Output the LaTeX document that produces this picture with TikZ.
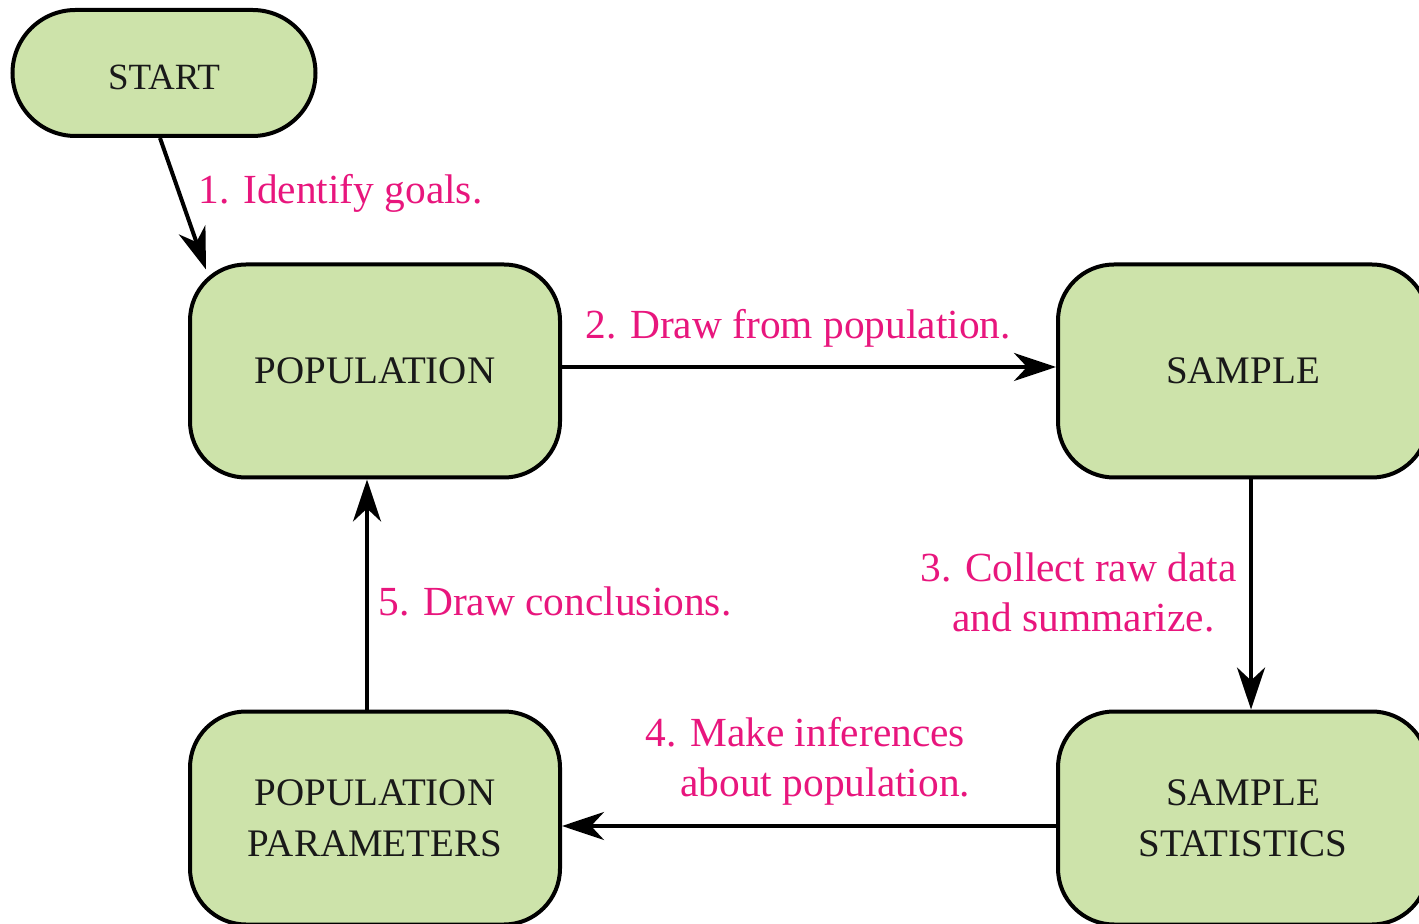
\documentclass[tikz,border=0pt]{standalone}
\usepackage{fontspec}
\setmainfont{Liberation Serif}
\usetikzlibrary{arrows.meta}
\definecolor{boxgreen}{RGB}{205,227,170}
\definecolor{labelpink}{RGB}{232,22,125}
\tikzset{
  box/.style={draw=black, line width=2pt, fill=boxgreen, rounded corners=28pt,
    minimum width=185pt, minimum height=106.5pt, align=center, inner sep=0pt,
    font=\fontsize{19.5}{25.5}\selectfont, text=black!90},
  startbox/.style={box, minimum width=151.5pt, minimum height=63pt, rounded corners=31.5pt,
    font=\fontsize{18.5}{24}\selectfont, text height=16.5pt, text depth=0pt},
  conn/.style={line width=2pt, -{Stealth[length=21pt, width=14pt, inset=6.5pt]}},
  lbl/.style={text=labelpink, font=\fontsize{20.7}{25}\selectfont, inner sep=0pt}
}
\begin{document}
\begin{tikzpicture}[x=0.5pt, y=-0.5pt]
\useasboundingbox (0,0) rectangle (1419,924);
\node[startbox] (start) at (164,73) {START};
\node[box] (pop) at (375,371) {POPULATION};
\node[box] (sample) at (1243,371) {SAMPLE};
\node[box] (stats) at (1243,818) {SAMPLE\\STATISTICS};
\node[box] (param) at (375,818) {POPULATION\\PARAMETERS};

\draw[conn] ([xshift=-2pt]start.south) -- ([xshift=9pt,yshift=-3.5pt]pop.north west);
\draw[conn] ([yshift=2pt]pop.east) -- ([yshift=2pt]sample.west);
\draw[conn] ([xshift=4pt]sample.south) -- ([xshift=4pt]stats.north);
\draw[conn] ([yshift=-4pt]stats.west) -- ([yshift=-4pt]param.east);
\draw[conn] ([xshift=-4pt]param.north) -- ([xshift=-4pt]pop.south);

\node[lbl, anchor=west] (l1) at (198,193) {1. Identify goals.};
\node[lbl, anchor=west] (l2) at (585,328) {2. Draw from population.};
\node[lbl, anchor=north west, align=left] (l3) at (920,552) {3. Collect raw data\\\hspace*{16pt}and summarize.};
\node[lbl, anchor=north west, align=left] (l4) at (645,717) {4. Make inferences\\\hspace*{17.5pt}about population.};
\node[lbl, anchor=west] (l5) at (378,601) {5. Draw conclusions.};
\end{tikzpicture}
\end{document}
